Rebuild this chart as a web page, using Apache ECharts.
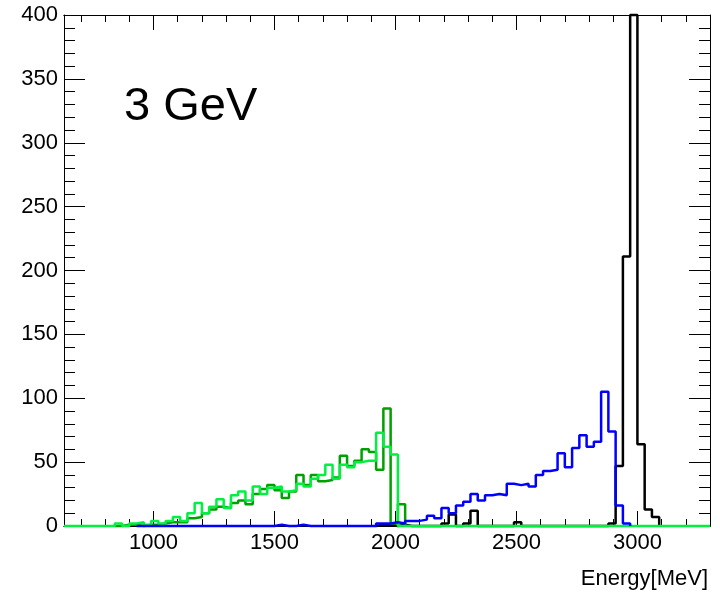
<!DOCTYPE html>
<html>
<head>
<meta charset="utf-8">
<script src="https://cdn.jsdelivr.net/npm/echarts@6/dist/echarts.min.js"></script>
<style>
  html, body { margin: 0; padding: 0; background: #fff; }
  #chart { width: 720px; height: 599px; }
</style>
</head>
<body>
<div id="chart"></div>
<script>
// histogram binning (MeV)
const binWidth = 30;
const xMin = 630;
const xMax = 3300;

// tick positions
const majorX = [1000, 1500, 2000, 2500, 3000];
const minorX = [700, 800, 900, 1100, 1200, 1300, 1400, 1600, 1700, 1800, 1900,
  2100, 2200, 2300, 2400, 2600, 2700, 2800, 2900, 3100, 3200];

// dark green, bins from 840
const darkStart = 840;
const darkCounts = [0, 1, 1, 0, 1, 1, 2, 3, 3, 3, 6, 7, 10, 13, 15, 14, 18, 20, 17, 25,
  29, 32, 28, 22, 27, 40, 32, 40, 35, 36, 38, 55, 47, 51, 60, 58, 44, 92, 2, 17];

// light green, bins from 840
const lightStart = 840;
const lightCounts = [2, 0, 2, 3, 1, 4, 2, 4, 7, 4, 10, 18, 10, 15, 21, 14, 24, 27, 20, 31,
  25, 30, 31, 27, 28, 33, 31, 37, 40, 48, 37, 48, 46, 50, 51, 51, 73, 62, 56, 0];

// blue, bins from 930
const blueStart = 930;
const blueCounts = [0, 0, 0, 0, 0, 0, 0, 0, 0, 0,
  0, 0, 0, 0, 0, 0, 0, 0, 0,
  1, 0, 0, 1,
  0, 0, 0, 0, 0, 0, 0, 0, 0, 0,
  2, 2, 3, 2,
  4, 4, 5, 8, 6, 14, 10, 16, 19, 25, 20, 24, 25, 24, 33, 32, 33, 31, 40, 43, 44, 57,
  46, 61, 71, 62, 66, 105, 74, 16, 2];

// black, bins from 1920
const blackStart = 1920;
const blackCounts = [1, 1, 0, 1, 0, 0, 0, 0, 0, 2, 9, 0, 2, 12, 0, 0, 0, 0, 0, 3,
  0, 0, 0, 0, 0, 0, 0, 0, 0, 0, 0, 0, 2, 47, 211, 400, 64, 13, 7];

function steps(start, counts) {
  let pts = [[start, 0]];
  counts.forEach(function (c, i) {
    pts.push([start + i * binWidth, c]);
  });
  pts.push([start + counts.length * binWidth, 0]);
  return pts;
}

let lightPts = steps(lightStart, lightCounts);
lightPts.unshift([xMin, 0]);
lightPts.push([xMax, 0]);

const font = "'Liberation Sans', Arial, Helvetica, sans-serif";

function histo(name, pts, color, width) {
  return {
    name: name,
    type: "line",
    step: "end",
    data: pts,
    showSymbol: false,
    clip: false,
    animation: false,
    lineStyle: { color: color, width: width },
  };
}

function xAx(pos, ticks, len, labels) {
  return {
    type: "value",
    position: pos,
    min: xMin,
    max: xMax,
    axisLine: { show: true, lineStyle: { color: "#000", width: 1 } },
    axisTick: { show: true, inside: true, length: len, customValues: ticks, lineStyle: { color: "#000" } },
    axisLabel: {
      show: labels,
      customValues: ticks,
      formatter: function (v) { return String(v); },
      margin: 6,
      fontSize: 22,
      color: "#000",
      fontFamily: font,
    },
    splitLine: { show: false },
  };
}

function yAx(pos, labels) {
  return {
    type: "value",
    position: pos,
    min: 0,
    max: 400,
    interval: 50,
    axisLine: { show: true, lineStyle: { color: "#000", width: 1 } },
    axisTick: { show: true, inside: true, length: 21, lineStyle: { color: "#000" } },
    minorTick: { show: true, splitNumber: 5, length: 11, lineStyle: { color: "#000" } },
    axisLabel: { show: labels, margin: 6, fontSize: 22, color: "#000", fontFamily: font },
    splitLine: { show: false },
  };
}

let chart = echarts.init(document.getElementById("chart"));

let option = {
  animation: false,
  grid: { left: 64, top: 15, right: 10, bottom: 73 },
  xAxis: [
    xAx("bottom", majorX, 15, true),
    xAx("bottom", minorX, 7, false),
    xAx("top", majorX, 15, false),
    xAx("top", minorX, 7, false),
  ],
  yAxis: [yAx("left", true), yAx("right", false)],
  series: [
    histo("black", steps(blackStart, blackCounts), "#000000", 2.5),
    histo("dark green", steps(darkStart, darkCounts), "#00a000", 2.5),
    histo("light green", lightPts, "#00f040", 2.5),
    histo("blue", steps(blueStart, blueCounts), "#0000ff", 2.5),
  ],
  graphic: [
    {
      type: "text",
      left: 124,
      top: 84,
      style: { text: "3 GeV", fontSize: 47, fontFamily: font, fill: "#000" },
    },
    {
      type: "text",
      right: 12,
      top: 568,
      style: { text: "Energy[MeV]", fontSize: 22, fontFamily: font, fill: "#000" },
    },
  ],
};

chart.setOption(option);

window.onresize = function () {
  chart.resize();
};
</script>
</body>
</html>
